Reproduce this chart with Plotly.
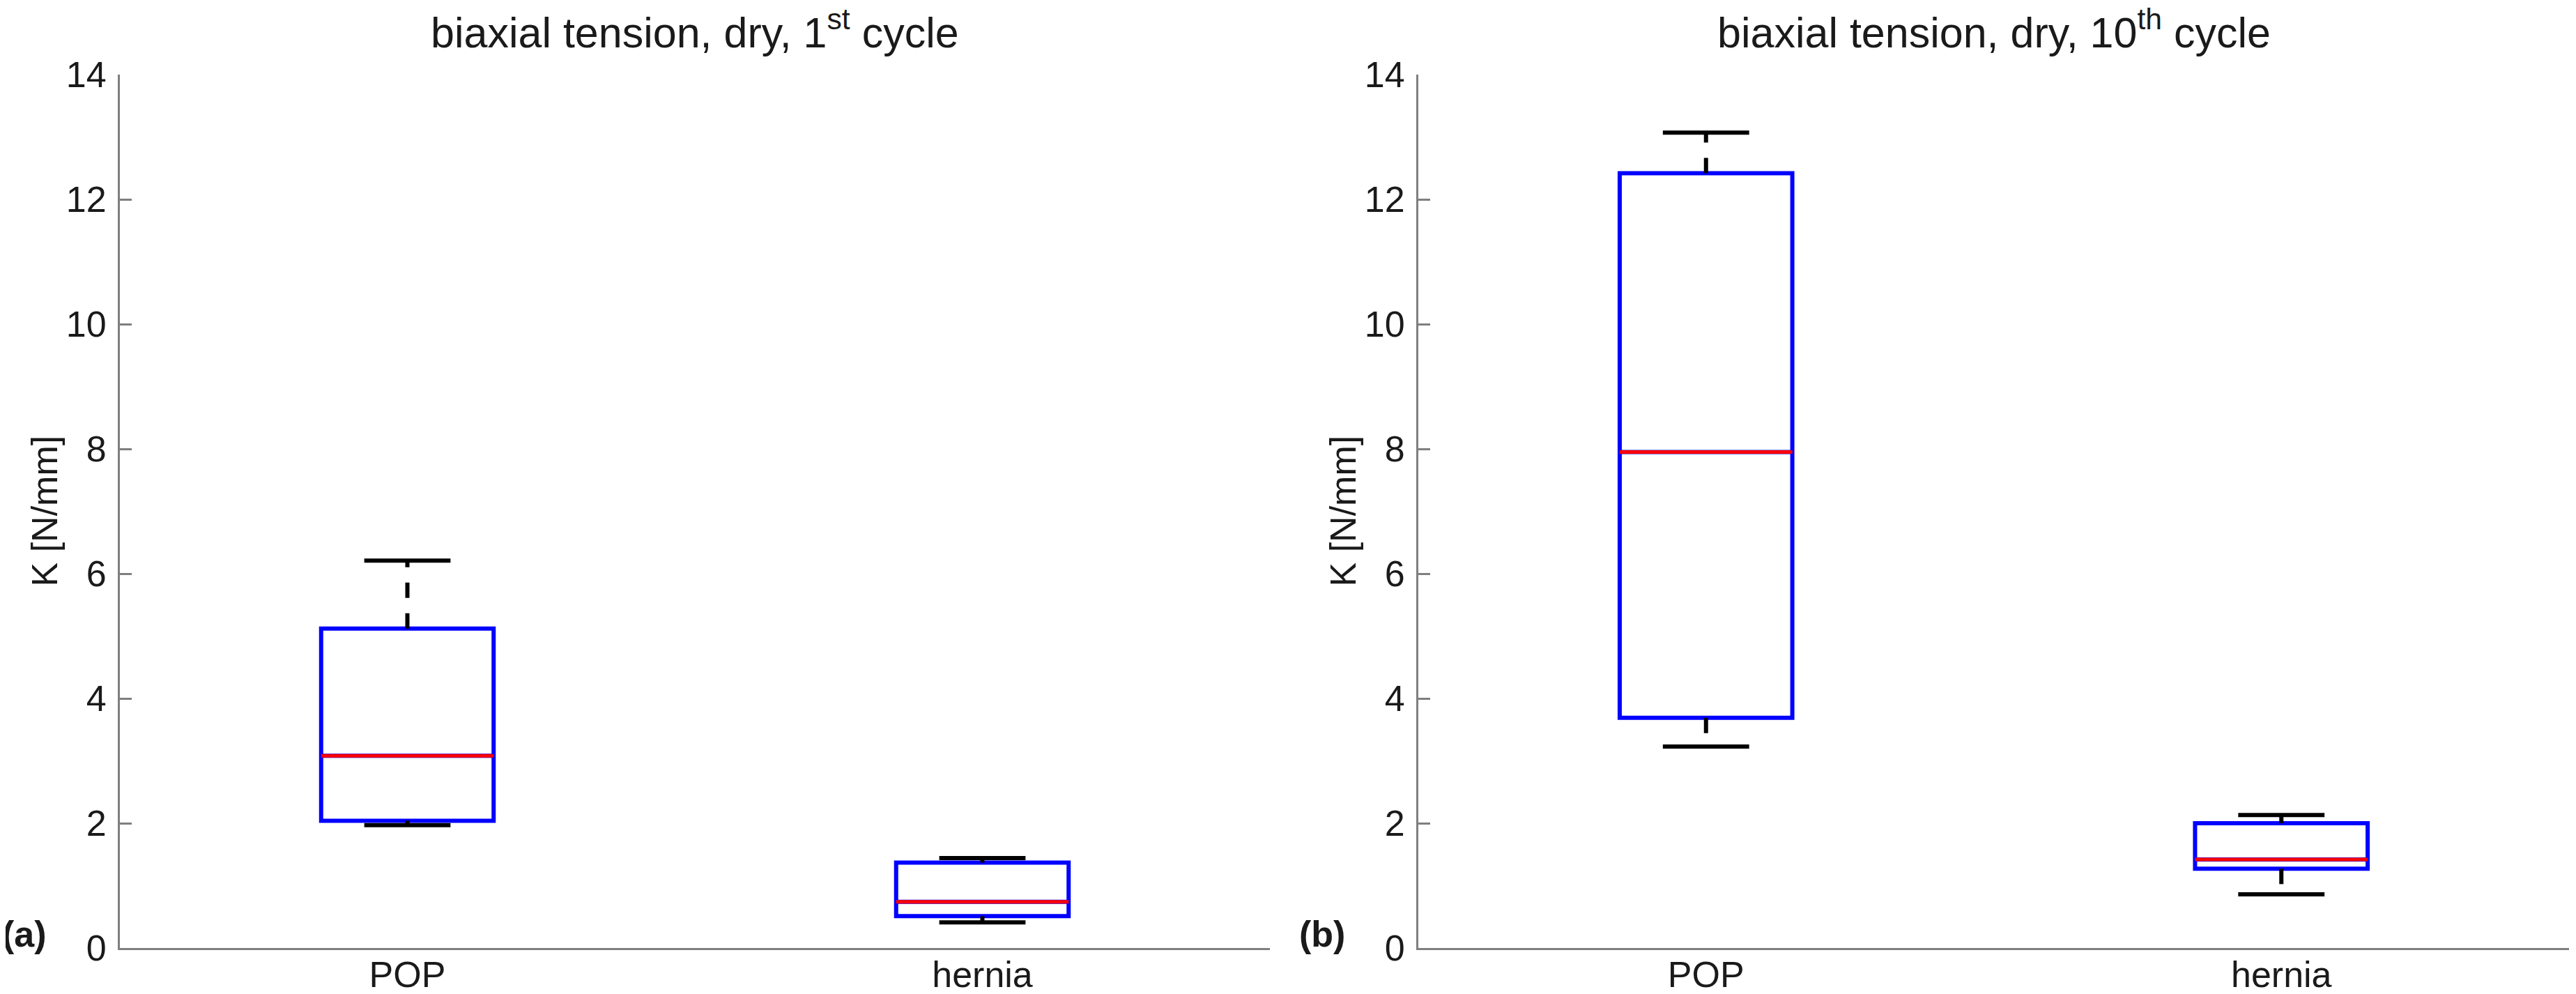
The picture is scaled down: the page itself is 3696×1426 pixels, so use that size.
import plotly.graph_objects as go
from plotly.subplots import make_subplots

# values (K in N/mm)
categories = ["POP", "hernia"]
positions = [1, 2]

c1_lower = [1.97, 0.41]
c1_q1 = [2.04, 0.51]
c1_median = [3.08, 0.74]
c1_q3 = [5.12, 1.37]
c1_upper = [6.21, 1.44]

c10_lower = [3.23, 0.86]
c10_q1 = [3.69, 1.27]
c10_median = [7.95, 1.42]
c10_q3 = [12.42, 2.00]
c10_upper = [13.07, 2.13]

titles = ["biaxial tension, dry, 1<sup>st</sup> cycle",
          "biaxial tension, dry, 10<sup>th</sup> cycle"]
panel_tags = ["(a)", "(b)"]
y_ticks = [0, 2, 4, 6, 8, 10, 12, 14]

# the page body has an 8px margin, so the figure is a bit smaller than the window
PAGE_W, PAGE_H = 3696, 1426
OFF = 8
W, H = PAGE_W - 2 * OFF, PAGE_H - 2 * OFF
FONT = "Liberation Sans, Arial, Helvetica, sans-serif"
BOX_W = 0.3
CAP_W = 0.15


def fx(px):
    return (px - OFF) / W


def fy(px):
    return 1 - (px - OFF) / H


fig = make_subplots(rows=1, cols=2)


def add_panel(col, lower, q1, med, q3, upper):
    for i, p in enumerate(positions):
        fig.add_trace(go.Box(
            x=[p], q1=[q1[i]], median=[med[i]], q3=[q3[i]],
            lowerfence=[q1[i]], upperfence=[q3[i]],
            width=BOX_W, whiskerwidth=0,
            line=dict(color="#0000ff", width=6),
            fillcolor="rgba(0,0,0,0)", boxpoints=False,
            hoverinfo="skip", showlegend=False), row=1, col=col)
    # dashed whiskers
    wx, wy = [], []
    for i, p in enumerate(positions):
        wx += [p, p, None, p, p, None]
        wy += [q3[i], upper[i], None, q1[i], lower[i], None]
    fig.add_trace(go.Scatter(x=wx, y=wy, mode="lines",
                             line=dict(color="black", width=6, dash="22px,22px"),
                             hoverinfo="skip", showlegend=False), row=1, col=col)
    # whisker caps
    cx, cy = [], []
    for i, p in enumerate(positions):
        cx += [p - CAP_W / 2, p + CAP_W / 2, None, p - CAP_W / 2, p + CAP_W / 2, None]
        cy += [upper[i], upper[i], None, lower[i], lower[i], None]
    fig.add_trace(go.Scatter(x=cx, y=cy, mode="lines",
                             line=dict(color="black", width=6),
                             hoverinfo="skip", showlegend=False), row=1, col=col)
    # medians
    mx, my = [], []
    for i, p in enumerate(positions):
        mx += [p - BOX_W / 2, p + BOX_W / 2, None]
        my += [med[i], med[i], None]
    fig.add_trace(go.Scatter(x=mx, y=my, mode="lines",
                             line=dict(color="#ff0000", width=5),
                             hoverinfo="skip", showlegend=False), row=1, col=col)


add_panel(1, c1_lower, c1_q1, c1_median, c1_q3, c1_upper)
add_panel(2, c10_lower, c10_q1, c10_median, c10_q3, c10_upper)

x_domains = [[fx(172), fx(1822)], [fx(2035), fx(3686)]]
y_domain = [fy(1360), fy(107)]

axis_common = dict(showline=True, linecolor="#7f7f7f", linewidth=3,
                   showgrid=False, zeroline=False, automargin=False,
                   tickfont=dict(family=FONT, size=52, color="#1a1a1a"))

for k in range(2):
    fig.update_xaxes(domain=x_domains[k], range=[0.5, 2.5],
                     tickvals=positions, ticktext=categories, ticks="",
                     ticklabelstandoff=-9,
                     **axis_common, row=1, col=k + 1)
    fig.update_yaxes(domain=y_domain, range=[0, 14], tickvals=y_ticks,
                     ticks="inside", ticklen=17, tickwidth=3, tickcolor="#7f7f7f",
                     ticklabelstandoff=6,
                     **axis_common, row=1, col=k + 1)

axis_x = [172, 2035]
tag_x = [35, 1897]
annotations = []
for k in range(2):
    x0, x1 = x_domains[k]
    annotations.append(dict(text=titles[k], xref="paper", yref="paper",
                            x=(x0 + x1) / 2, y=fy(42),
                            xanchor="center", yanchor="middle", showarrow=False,
                            font=dict(family=FONT, size=61, color="#1a1a1a")))
    annotations.append(dict(text="K [N/mm]", xref="paper", yref="paper",
                            x=fx(axis_x[k] - 109), y=(y_domain[0] + y_domain[1]) / 2,
                            textangle=-90, xanchor="center", yanchor="middle",
                            showarrow=False,
                            font=dict(family=FONT, size=52, color="#1a1a1a")))
    annotations.append(dict(text="<b>" + panel_tags[k] + "</b>", xref="paper", yref="paper",
                            x=fx(tag_x[k]), y=fy(1340),
                            xanchor="center", yanchor="middle", showarrow=False,
                            font=dict(family=FONT, size=52, color="#1a1a1a")))

fig.update_layout(width=W, height=H, margin=dict(l=0, r=0, t=0, b=0, autoexpand=False),
                  paper_bgcolor="white", plot_bgcolor="white",
                  annotations=annotations, showlegend=False)

fig.write_html("out.html")
